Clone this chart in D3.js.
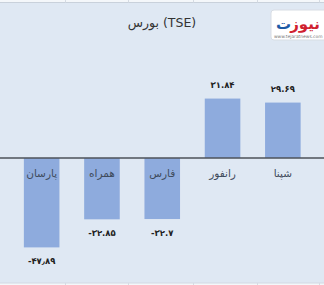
<!DOCTYPE html>
<html><head><meta charset="utf-8">
<script src="https://cdn.jsdelivr.net/npm/d3@7"></script>
<style>html,body{margin:0;padding:0;background:#f4f7fa;overflow:hidden}</style>
</head><body>
<script>
const categories = ["پارسان","همراه","فارس","رانفور","شپنا"];
const values = [-47.89, -32.85, -32.7, 31.84, 29.69];
const valueLabels = ["-۴۷٫۸۹","-۳۲.۸۵","-۳۲.۷","۳۱.۸۴","۲۹.۶۹"];
const yTicks = [-60,-40,-20,0,20,40,60];
const title = "بورس (TSE)";

const W = 324, H = 285;
const svg = d3.select("body").append("svg").attr("width", W).attr("height", H);
const font = "'DejaVu Sans', sans-serif";

// background panels
svg.append("rect").attr("x",0).attr("y",0).attr("width",W).attr("height",H).attr("fill","#f4f7fa");
svg.append("rect").attr("x",0).attr("y",3).attr("width",W).attr("height",280).attr("fill","#dfe8f3");
svg.append("line").attr("x1",0).attr("x2",W).attr("y1",2.5).attr("y2",2.5).attr("stroke","#c9d1db");
svg.append("line").attr("x1",0).attr("x2",W).attr("y1",283).attr("y2",283).attr("stroke","#d2d9e2");
[65,128,193,257,319].forEach(x=>{
  svg.append("line").attr("x1",x+0.5).attr("x2",x+0.5).attr("y1",0).attr("y2",2.5).attr("stroke","#d5dbe3");
  svg.append("line").attr("x1",x+0.5).attr("x2",x+0.5).attr("y1",283).attr("y2",285).attr("stroke","#d5dbe3");
});

const y = d3.scaleLinear().domain([-60,60]).range([270,46]);
const x = d3.scaleBand().domain(categories).range([11.5,313]).paddingInner(0.41).paddingOuter(0.205);

// gridlines
const yAxis = d3.axisLeft(y).tickValues(yTicks).tickSize(-W).tickFormat("");
const g = svg.append("g").attr("transform",`translate(${W},0)`).call(yAxis);
g.select(".domain").remove();
g.selectAll(".tick line").attr("stroke","#bcc6d2").attr("stroke-width",1)
  .attr("transform","translate(0,0.5)");

// bars
const data = categories.map((c,i)=>({c, v: values[i], l: valueLabels[i]}));
svg.selectAll("rect.bar").data(data).enter().append("rect").attr("class","bar")
  .attr("x", d=>x(d.c)).attr("width", x.bandwidth())
  .attr("y", d=>Math.min(y(d.v), y(0))).attr("height", d=>Math.abs(y(d.v)-y(0)))
  .attr("fill","#8eabdd");

// zero axis
svg.append("line").attr("x1",0).attr("x2",W).attr("y1",y(0)).attr("y2",y(0))
  .attr("stroke","#4d5258").attr("stroke-width",1.3);

// category labels
svg.selectAll("text.cat").data(data).enter().append("text").attr("class","cat")
  .attr("x", d=>x(d.c)+x.bandwidth()/2).attr("y", y(0)+19)
  .attr("text-anchor","middle").attr("font-family",font).attr("font-size",10.5)
  .attr("fill","#3f4b5c").text(d=>d.c);

// value labels
svg.selectAll("text.val").data(data).enter().append("text").attr("class","val")
  .attr("x", d=>x(d.c)+x.bandwidth()/2)
  .attr("y", d=> d.v>=0 ? y(d.v)-11 : y(d.v)+17)
  .attr("text-anchor","middle").attr("font-family",font).attr("font-size",8.5)
  .attr("font-weight","bold").attr("fill","#222").attr("direction","ltr")
  .text(d=>d.l);

// title
svg.append("text").attr("x",162).attr("y",27).attr("text-anchor","middle")
  .attr("font-family",font).attr("font-size",12.5).attr("fill","#333")
  .text(title);

// logo
svg.append("rect").attr("x",271).attr("y",10).attr("width",70).attr("height",30).attr("rx",3)
  .attr("fill","#fff").attr("stroke","#d8dde4");
const logo = svg.append("text").attr("x",298).attr("y",29).attr("text-anchor","middle")
  .attr("font-family",font).attr("font-size",15).attr("font-weight","bold");
logo.append("tspan").attr("fill","#d0212f").text("نیوز");
logo.append("tspan").attr("fill","#1d5aa6").attr("dx",1).text("ت");
svg.append("text").attr("x",274).attr("y",37.5).attr("font-family",font).attr("font-size",4.4)
  .attr("fill","#777").text("www.tejaratnews.com");
</script>
</body></html>
